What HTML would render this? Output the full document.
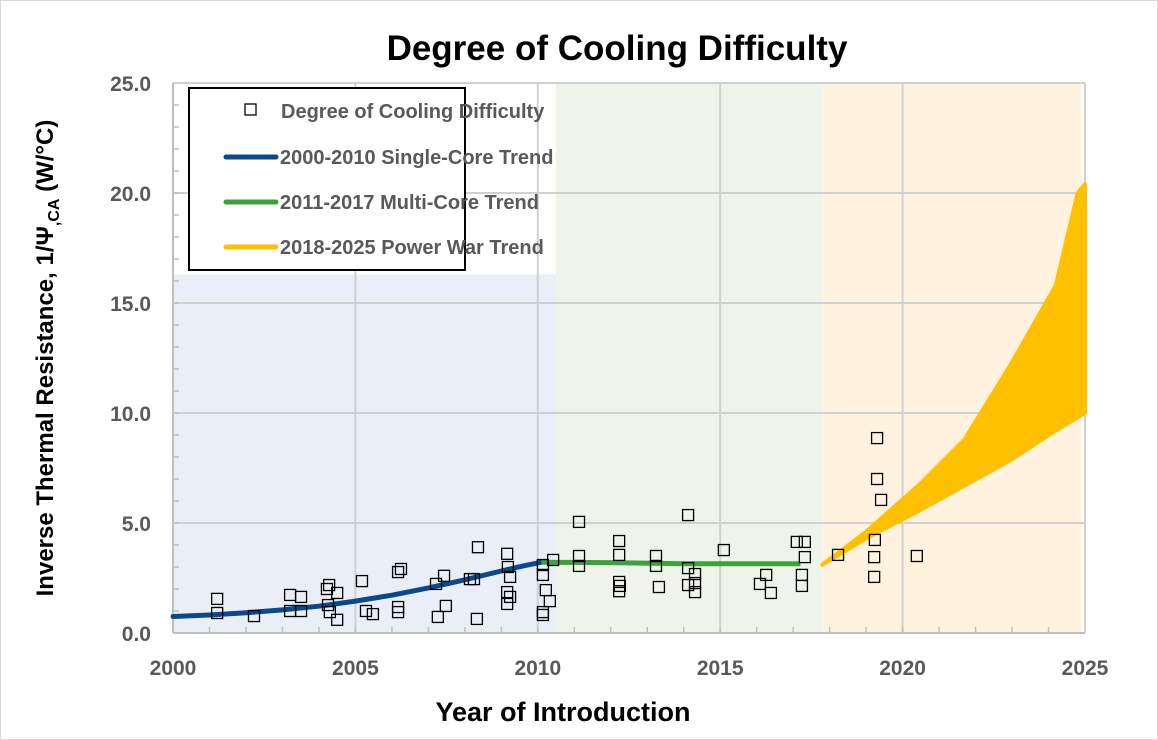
<!DOCTYPE html>
<html><head><meta charset="utf-8"><style>
html,body{margin:0;padding:0;background:#fff;}
svg{display:block;font-family:"Liberation Sans",sans-serif;}
</style></head><body>
<svg id="chart" width="1158" height="740" xmlns="http://www.w3.org/2000/svg">
<rect x="0.5" y="0.5" width="1157" height="739" fill="#fff" stroke="#d9d9d9"/>
<text x="617" y="60" text-anchor="middle" font-size="35" font-weight="bold" fill="#000">Degree of Cooling Difficulty</text>
<g id="plot"></g>
<text x="563" y="721" text-anchor="middle" font-size="27" font-weight="bold" fill="#000">Year of Introduction</text>
<text transform="translate(53,358) rotate(-90)" text-anchor="middle" font-size="24" font-weight="bold" fill="#000">Inverse Thermal Resistance, 1/Ψ<tspan font-size="16" dy="6">,CA</tspan><tspan dy="-6"> (W/°C)</tspan></text>
<g>
<rect x="189" y="88" width="276" height="182" fill="#fff" stroke="#000" stroke-width="2"/>
<rect x="245" y="104" width="11" height="11" fill="none" stroke="#000" stroke-width="1.3"/>
<text x="281" y="118" font-size="20" font-weight="bold" fill="#595959">Degree of Cooling Difficulty</text>
<line x1="226" y1="157" x2="276" y2="157" stroke="#0a4a8c" stroke-width="5" stroke-linecap="round"/>
<text x="280" y="164" font-size="20" font-weight="bold" fill="#595959">2000-2010 Single-Core Trend</text>
<line x1="226" y1="202" x2="276" y2="202" stroke="#3aa33a" stroke-width="5" stroke-linecap="round"/>
<text x="280" y="209" font-size="20" font-weight="bold" fill="#595959">2011-2017 Multi-Core Trend</text>
<line x1="226" y1="247" x2="276" y2="247" stroke="#ffc000" stroke-width="5" stroke-linecap="round"/>
<text x="280" y="254" font-size="20" font-weight="bold" fill="#595959">2018-2025 Power War Trend</text>
</g>
</svg>
<script>
const xTicks=[2000,2005,2010,2015,2020,2025];
const yTicks=[0,5,10,15,20,25];
const yTickLabels=["0.0","5.0","10.0","15.0","20.0","25.0"];
const ptYears=[2001.21,2001.21,2002.22,2003.21,2003.21,2003.51,2003.51,2004.22,2004.28,2004.25,2004.5,2004.3,2004.5,2005.18,2005.29,2005.48,2006.17,2006.17,2006.17,2006.25,2007.21,2007.43,2007.26,2007.48,2008.14,2008.25,2008.36,2008.33,2009.16,2009.18,2009.24,2009.16,2009.24,2009.16,2010.14,2010.14,2010.14,2010.42,2010.22,2010.33,2010.14,
2011.13,2011.13,2011.13,2012.23,2012.23,2012.23,2012.23,2012.25,2013.24,2013.24,2013.32,2014.12,2014.12,2014.31,2014.12,2014.31,2014.31,2015.1,2016.09,2016.26,2016.39,2017.1,2017.32,2017.32,2017.24,2017.24,
2018.23,2019.22,2019.22,2019.3,2019.3,2019.41,2019.24,2020.39];
const ptValues=[1.55,0.91,0.77,1.73,1.0,1.64,1.0,2.0,2.18,1.27,1.82,0.95,0.6,2.36,1.0,0.86,0.95,1.18,2.77,2.91,2.23,2.6,0.73,1.23,2.45,2.45,3.9,0.64,3.6,3.0,2.55,1.86,1.64,1.32,3.09,0.95,0.82,3.32,1.95,1.45,2.64,
5.05,3.5,3.05,4.18,3.55,2.32,1.9,2.14,3.5,3.05,2.09,5.36,2.95,2.68,2.18,2.27,1.86,3.77,2.23,2.64,1.82,4.14,4.14,3.45,2.64,2.14,
3.55,3.45,2.55,8.86,7.0,6.05,4.23,3.5];
const singleYears=[2000,2001,2002,2003,2004,2005,2006,2007,2008,2009,2009.6,2010.1];
const singleVals=[0.75,0.82,0.92,1.05,1.22,1.45,1.72,2.05,2.42,2.82,3.05,3.22];
const multiYears=[2010.1,2012,2014,2016,2017.2];
const multiVals=[3.22,3.2,3.15,3.15,3.15];
const warYears=[2017.8,2019,2020.5,2021.7,2023,2024.2,2024.8,2025];
const warUpper=[3.1,4.6,6.8,8.8,12.3,15.8,20.0,20.4];
const warLower=[3.1,4.3,5.6,6.7,7.9,9.2,9.8,10.0];
const X0=173,X1=1085,Y0=633,Y1=83;
const sx=v=>X0+(v-2000)/25*(X1-X0);
const sy=v=>Y0-v/25*(Y0-Y1);
const NS="http://www.w3.org/2000/svg";
const g=document.getElementById('plot');
function mk(t,a){const e=document.createElementNS(NS,t);for(const k in a)e.setAttribute(k,a[k]);g.appendChild(e);return e;}
let e;
e=mk('rect',{x:sx(2000),y:sy(16.3),width:sx(2010.5)-sx(2000),height:sy(0)-sy(16.3),fill:'#e9eef7'});


e=mk('rect',{x:sx(2010.5),y:Y1,width:sx(2017.8)-sx(2010.5),height:Y0-Y1,fill:'#eef4e9'});


e=mk('rect',{x:sx(2017.8),y:Y1,width:sx(2024.9)-sx(2017.8),height:Y0-Y1,fill:'#fff3e0'});


yTicks.forEach((v,i)=>{
 if(v>0){e=mk('line',{x1:X0,x2:X1,y1:sy(v),y2:sy(v),stroke:'#d0d0d0','stroke-width':2});
 
 }
 e=mk('text',{x:X0-22,y:sy(v)+8,'text-anchor':'end','font-size':21,'font-weight':'bold',fill:'#595959'});
 e.textContent=yTickLabels[i];
 
 
});
for(let v=1;v<25;v++){e=mk('line',{x1:X0,x2:X0+6,y1:sy(v),y2:sy(v),stroke:'#bfbfbf','stroke-width':1.5});
 
 }
xTicks.forEach(v=>{
 if(v>2000){e=mk('line',{x1:sx(v),x2:sx(v),y1:Y1,y2:Y0,stroke:'#d0d0d0','stroke-width':2});
 
 }
 e=mk('text',{x:sx(v),y:Y0+42,'text-anchor':'middle','font-size':21,'font-weight':'bold',fill:'#595959'});
 e.textContent=v;
 
 
});
for(let v=2001;v<2025;v++){e=mk('line',{x1:sx(v),x2:sx(v),y1:Y0-6,y2:Y0,stroke:'#bfbfbf','stroke-width':1.5});
 
 }
e=mk('line',{x1:X0,x2:X0,y1:Y1,y2:Y0,stroke:'#bfbfbf','stroke-width':2});


e=mk('line',{x1:X0,x2:X1,y1:Y0,y2:Y0,stroke:'#bfbfbf','stroke-width':2});


const path=(xs,ys)=>xs.map((x,i)=>(i?'L':'M')+sx(x).toFixed(1)+','+sy(ys[i]).toFixed(1)).join('');
let band=path(warYears,warUpper)+warYears.slice().reverse().map((x,i)=>'L'+sx(x).toFixed(1)+','+sy(warLower[warLower.length-1-i]).toFixed(1)).join('')+'Z';
e=mk('path',{d:band,fill:'#ffc000',stroke:'#ffc000','stroke-width':4,'stroke-linejoin':'round'});


e=mk('path',{d:path(singleYears,singleVals),fill:'none',stroke:'#0a4a8c','stroke-width':5,'stroke-linecap':'round','stroke-linejoin':'round'});


e=mk('path',{d:path(multiYears,multiVals),fill:'none',stroke:'#3aa33a','stroke-width':5});


ptYears.forEach((x,i)=>{
 e=mk('rect',{x:sx(x)-5.5,y:sy(ptValues[i])-5.5,width:11,height:11,fill:'none',stroke:'#000','stroke-width':1.3});
 
 
});
</script>
</body></html>
